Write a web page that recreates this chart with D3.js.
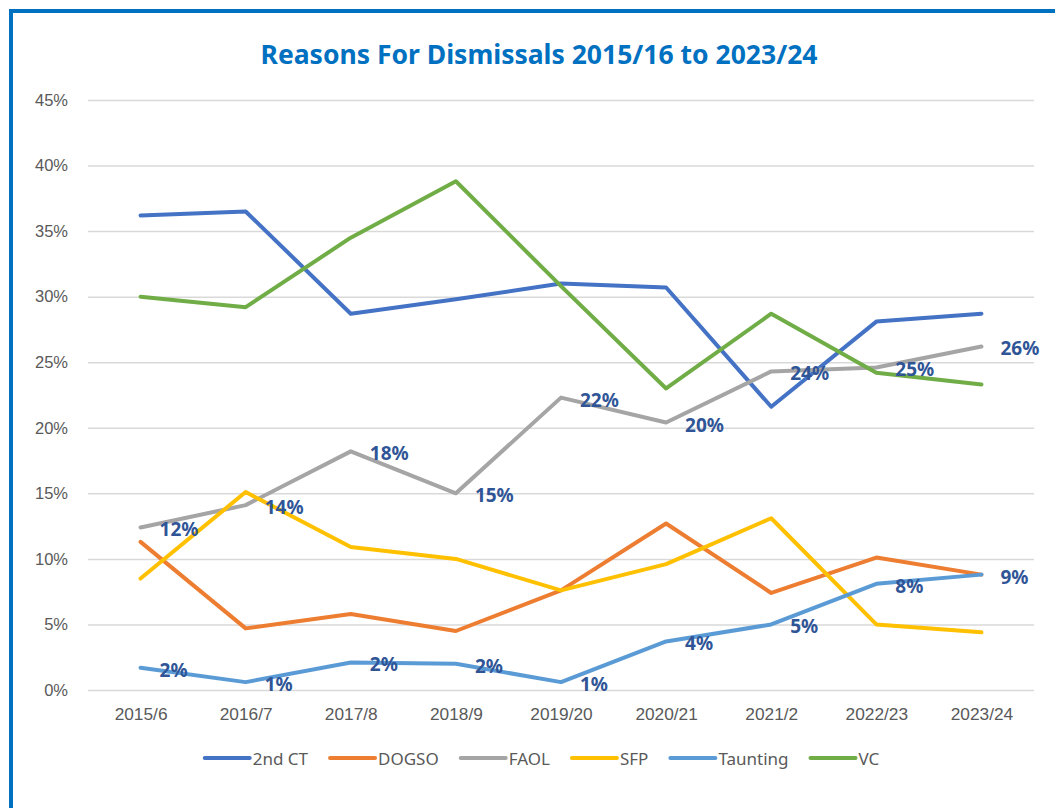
<!DOCTYPE html>
<html>
<head>
<meta charset="utf-8">
<script src="https://cdn.jsdelivr.net/npm/d3@7"></script>
<style>
  body { margin: 0; background: #fff; }
  svg { display: block; font-family: "Noto Sans", "Open Sans", sans-serif; }
  .grid line { stroke: #d9d9d9; stroke-width: 1.5; }
  .label { fill: #2f5597; font-size: 19px; font-weight: bold; }
</style>
</head>
<body>
<div id="chart"></div>
<script>
//Data (fractions)
const seasons = ['2015/6', '2016/7', '2017/8', '2018/9', '2019/20', '2020/21', '2021/2', '2022/23', '2023/24'];
const secondCT = [0.362, 0.365, 0.287, 0.298, 0.310, 0.307, 0.216, 0.281, 0.287];
const dogso    = [0.113, 0.047, 0.058, 0.045, 0.076, 0.127, 0.074, 0.101, 0.088];
const faol     = [0.124, 0.141, 0.182, 0.150, 0.223, 0.204, 0.243, 0.246, 0.262];
const sfp      = [0.085, 0.151, 0.109, 0.100, 0.076, 0.096, 0.131, 0.050, 0.044];
const taunting = [0.017, 0.006, 0.021, 0.020, 0.006, 0.037, 0.050, 0.081, 0.088];
const vc       = [0.300, 0.292, 0.345, 0.388, 0.308, 0.230, 0.287, 0.242, 0.233];
const yTicks   = [0, 0.05, 0.10, 0.15, 0.20, 0.25, 0.30, 0.35, 0.40, 0.45];

const series = [
  {name: '2nd CT',   values: secondCT, color: '#4472c4', labels: false},
  {name: 'DOGSO',    values: dogso,    color: '#ed7d31', labels: false},
  {name: 'FAOL',     values: faol,     color: '#a5a5a5', labels: true},
  {name: 'SFP',      values: sfp,      color: '#ffc000', labels: false},
  {name: 'Taunting', values: taunting, color: '#5b9bd5', labels: true},
  {name: 'VC',       values: vc,       color: '#70ad47', labels: false}
];

const W = 1055, H = 808;
let plot = {left: 88, right: 1034, top: 100, bottom: 690};

let svg = d3.select('#chart').append('svg')
    .attr('width', W)
    .attr('height', H);

//outer frame, right/bottom edges fall outside the picture
svg.append('rect')
    .attr('x', 11).attr('y', 11)
    .attr('width', 1100).attr('height', 900)
    .attr('fill', 'none')
    .attr('stroke', '#0070c0')
    .attr('stroke-width', 4);

svg.append('text')
    .attr('x', 539).attr('y', 64)
    .attr('text-anchor', 'middle')
    .attr('fill', '#0070c0')
    .style('font-size', '26.5px')
    .style('font-weight', 'bold')
    .text('Reasons For Dismissals 2015/16 to 2023/24');

let xScale = d3.scalePoint()
    .domain(seasons)
    .range([plot.left, plot.right])
    .padding(0.5);

let yScale = d3.scaleLinear()
    .domain([0, 0.45])
    .range([plot.bottom, plot.top]);

//gridlines + y labels
svg.append('g')
    .attr('class', 'grid')
    .attr('transform', 'translate(' + plot.left + ',0)')
    .call(d3.axisLeft(yScale).tickValues(yTicks).tickFormat(d3.format('.0%'))
        .tickSize(-(plot.right - plot.left)).tickPadding(20))
    .call(g => g.select('.domain').remove())
    .call(g => g.selectAll('.tick text')
        .style('fill', '#595959').style('font-size', '16.5px'));

svg.append('g')
    .attr('transform', 'translate(0,' + plot.bottom + ')')
    .call(d3.axisBottom(xScale).tickSize(0).tickPadding(18))
    .call(g => g.select('.domain').remove())
    .call(g => g.selectAll('.tick text').style('fill', '#595959').style('font-size', '17.3px'));

let line = d3.line()
    .x(function(d, i) { return xScale(seasons[i]); })
    .y(function(d) { return yScale(d); });

svg.selectAll('.series')
    .data(series)
    .enter().append('path')
    .attr('class', 'series')
    .attr('d', d => line(d.values))
    .attr('fill', 'none')
    .attr('stroke', d => d.color)
    .attr('stroke-width', 4)
    .attr('stroke-linejoin', 'round')
    .attr('stroke-linecap', 'round');

//data labels (right of point)
series.filter(s => s.labels).forEach(function(s) {
  svg.selectAll(null)
      .data(s.values)
      .enter().append('text')
      .attr('class', 'label')
      .attr('x', (d, i) => xScale(seasons[i]) + 19)
      .attr('y', d => yScale(d) + 2)
      .attr('dominant-baseline', 'central')
      .text(d => d3.format('.0%')(d));
});

//legend
let legend = svg.append('g');
let lx = 0;
series.forEach(function(s) {
  let g = legend.append('g').attr('transform', 'translate(' + lx + ',0)');
  g.append('line')
      .attr('x1', 0).attr('x2', 45)
      .attr('stroke', s.color).attr('stroke-width', 4).attr('stroke-linecap', 'round');
  let t = g.append('text')
      .attr('x', 48)
      .attr('dominant-baseline', 'central')
      .attr('fill', '#595959')
      .style('font-size', '17px')
      .text(s.name);
  lx += 48 + t.node().getComputedTextLength() + 22;
});
lx -= 22;
legend.attr('transform', 'translate(' + (542 - lx / 2) + ',758)');
</script>
</body>
</html>
